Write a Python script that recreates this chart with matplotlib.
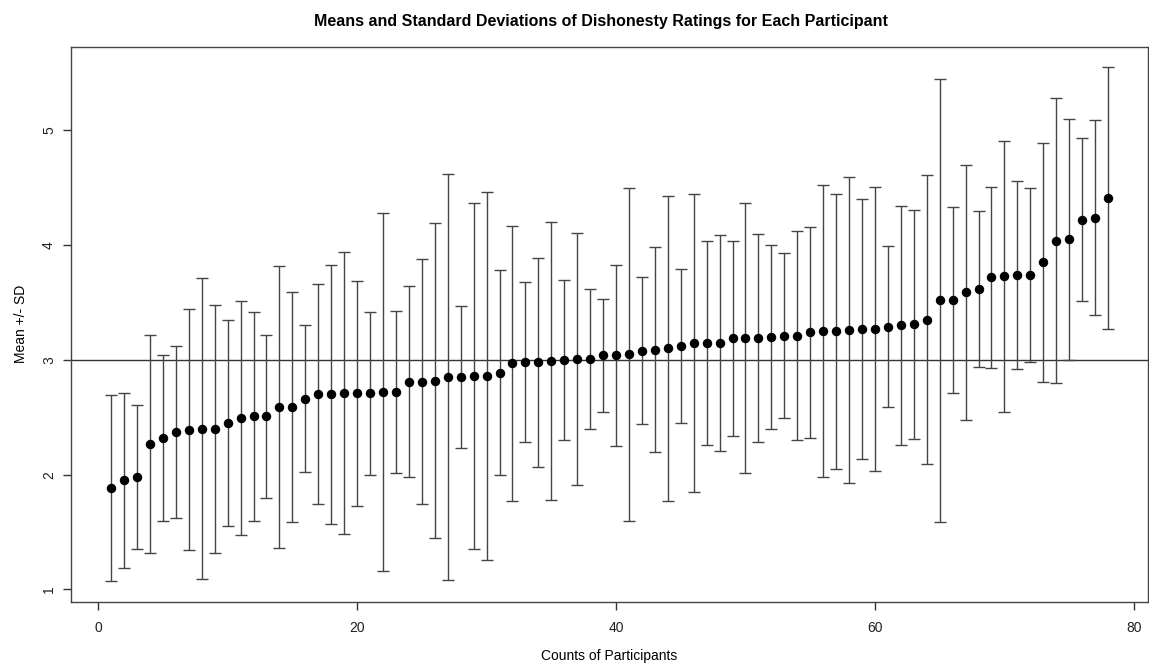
import numpy as np
import matplotlib
matplotlib.use("Agg")
import matplotlib.pyplot as plt

# participant index, sorted by mean rating
participants = np.arange(1, 79)

means = [
    1.88, 1.95, 1.98, 2.27, 2.32, 2.37, 2.39, 2.40, 2.40, 2.45,
    2.49, 2.51, 2.51, 2.59, 2.59, 2.66, 2.70, 2.70, 2.71, 2.71,
    2.71, 2.72, 2.72, 2.81, 2.81, 2.82, 2.85, 2.85, 2.86, 2.86,
    2.89, 2.97, 2.98, 2.98, 2.99, 3.00, 3.01, 3.01, 3.04, 3.04,
    3.05, 3.08, 3.09, 3.10, 3.12, 3.15, 3.15, 3.15, 3.19, 3.19,
    3.19, 3.20, 3.21, 3.21, 3.24, 3.25, 3.25, 3.26, 3.27, 3.27,
    3.29, 3.30, 3.31, 3.35, 3.52, 3.52, 3.59, 3.62, 3.72, 3.73,
    3.74, 3.74, 3.85, 4.04, 4.05, 4.22, 4.24, 4.41,
]

sds = [
    0.81, 0.76, 0.63, 0.95, 0.72, 0.75, 1.05, 1.31, 1.08, 0.90,
    1.02, 0.91, 0.71, 1.23, 1.00, 0.64, 0.96, 1.13, 1.23, 0.98,
    0.71, 1.56, 0.71, 0.83, 1.07, 1.37, 1.77, 0.62, 1.51, 1.60,
    0.89, 1.20, 0.70, 0.91, 1.21, 0.70, 1.10, 0.61, 0.49, 0.79,
    1.45, 0.64, 0.89, 1.33, 0.67, 1.30, 0.89, 0.94, 0.85, 1.18,
    0.91, 0.80, 0.72, 0.91, 0.92, 1.27, 1.20, 1.33, 1.13, 1.24,
    0.70, 1.04, 1.00, 1.26, 1.93, 0.81, 1.11, 0.68, 0.79, 1.18,
    0.82, 0.76, 1.04, 1.24, 1.05, 0.71, 0.85, 1.14,
]

x_ticks = [0, 20, 40, 60, 80]
y_ticks = [1, 2, 3, 4, 5]

plt.rcParams['font.family'] = ['Liberation Sans', 'DejaVu Sans']

fig = plt.figure(figsize=(11.49, 6.68), dpi=100)
ax = fig.add_axes([0.062, 0.099, 0.937, 0.831])

ax.errorbar(participants, means, yerr=sds, fmt='none', ecolor='#444444',
            elinewidth=1.0, capsize=4, capthick=1.0, zorder=2)
ax.plot(participants, means, 'o', color='black', markersize=5.8, zorder=3)
ax.axhline(3, color='#333333', linewidth=1.0, zorder=1)

# R-style 4% padding around the data range
lo = min(m - s for m, s in zip(means, sds))
hi = max(m + s for m, s in zip(means, sds))
pad_y = 0.04 * (hi - lo)
pad_x = 0.04 * (participants[-1] - participants[0])
ax.set_xlim(participants[0] - pad_x, participants[-1] + pad_x)
ax.set_ylim(lo - pad_y, hi + pad_y)

ax.set_xticks(x_ticks)
ax.set_yticks(y_ticks)
ax.set_yticklabels([str(v) for v in y_ticks], rotation=90, va='center')
ax.tick_params(direction='out', length=6, width=1.0, colors='#333333',
               labelsize=10, labelcolor='#222222')
ax.tick_params(axis='x', pad=8)
ax.tick_params(axis='y', pad=5)

for side in ax.spines.values():
    side.set_color('#444444')
    side.set_linewidth(1.0)

ax.set_title('Means and Standard Deviations of Dishonesty Ratings for Each Participant',
             fontsize=11.5, fontweight='bold', pad=15, x=0.492)
ax.set_xlabel('Counts of Participants', fontsize=10, labelpad=10)
ax.set_ylabel('Mean +/- SD', fontsize=10, labelpad=10)

fig.savefig('out.png', dpi=100)
